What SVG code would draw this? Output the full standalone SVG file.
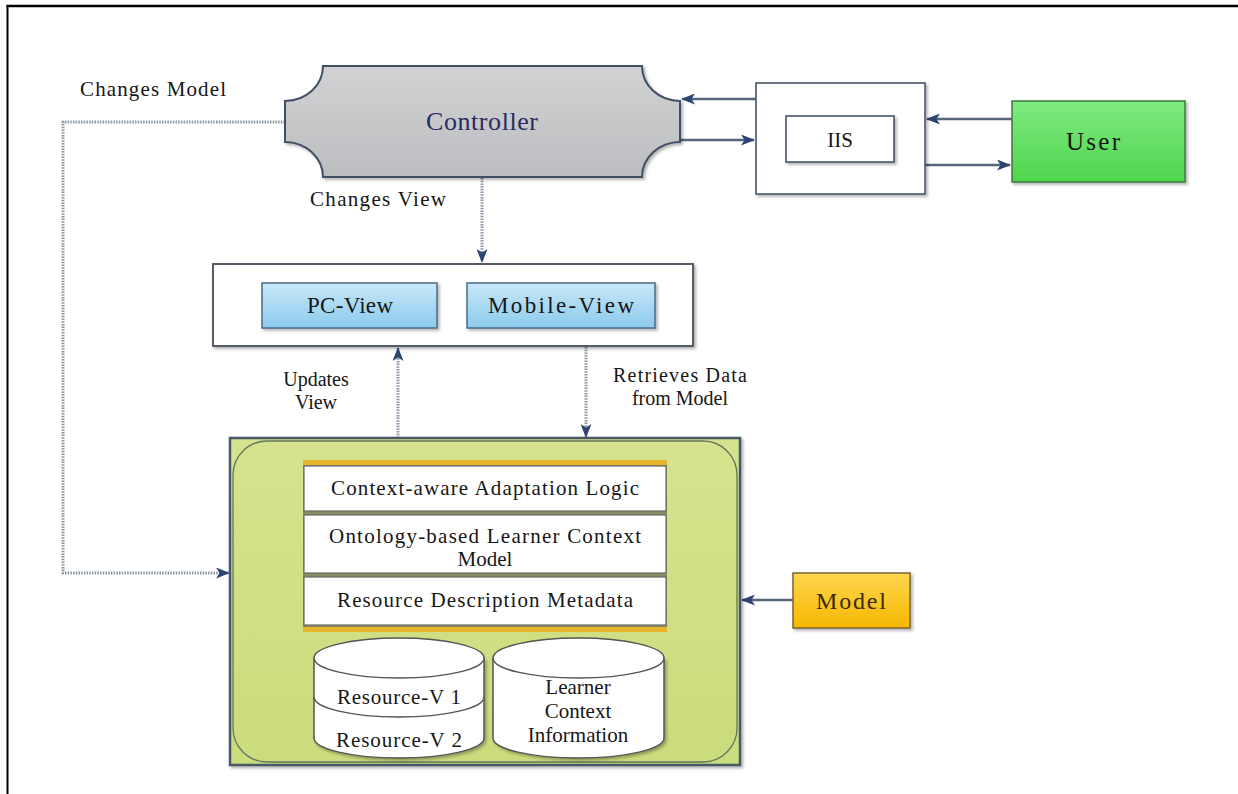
<svg xmlns="http://www.w3.org/2000/svg" width="1238" height="794" viewBox="0 0 1238 794">
<defs>
<linearGradient id="gCtrl" x1="0" y1="0" x2="0" y2="1"><stop offset="0" stop-color="#d2d2d4"/><stop offset="1" stop-color="#bcbdc0"/></linearGradient>
<linearGradient id="gUser" x1="0" y1="0" x2="0" y2="1"><stop offset="0" stop-color="#80ea80"/><stop offset="1" stop-color="#4ed54e"/></linearGradient>
<linearGradient id="gView" x1="0" y1="0" x2="0" y2="1"><stop offset="0" stop-color="#c8e8f8"/><stop offset="1" stop-color="#8ccaed"/></linearGradient>
<linearGradient id="gGreen" x1="0" y1="0" x2="0" y2="1"><stop offset="0" stop-color="#d6e38e"/><stop offset="1" stop-color="#cadc7c"/></linearGradient>
<linearGradient id="gModel" x1="0" y1="0" x2="0" y2="1"><stop offset="0" stop-color="#ffd650"/><stop offset="1" stop-color="#f6b800"/></linearGradient>
<filter id="sh" x="-10%" y="-10%" width="130%" height="130%"><feDropShadow dx="2" dy="2" stdDeviation="1.5" flood-color="#000" flood-opacity="0.3"/></filter>
<marker id="ah" viewBox="0 0 14 11" refX="13" refY="5.5" markerWidth="14" markerHeight="11" markerUnits="userSpaceOnUse" orient="auto"><path d="M0,0 L14,5.5 L0,11 L3.5,5.5 Z" fill="#2c4470"/></marker>
<style>
.t{font-family:"Liberation Serif","Times New Roman",serif;fill:#161616}
.box{fill:#fff;stroke:#4a5668;stroke-width:1.6}
.arr{fill:none;stroke:#55657c;stroke-width:2.5;marker-end:url(#ah)}
.dot{fill:none;stroke:#8c98a6;stroke-width:3;stroke-dasharray:1.5 1.2;marker-end:url(#ah)}
.row{fill:#fff;stroke:#6a6a60;stroke-width:1.2}
.cyl{fill:#fff;stroke:#555;stroke-width:1.5}
</style>
</defs>
<rect width="1238" height="794" fill="#fff"/>
<g id="frame">
<line x1="6.5" y1="6" x2="1238" y2="6" stroke="#000" stroke-width="2.5"/>
<line x1="7.5" y1="5" x2="7.5" y2="794" stroke="#000" stroke-width="2"/>
</g>
<g id="connectors">
<path class="dot" d="M285,122 H63 V573 H229"/>
<path class="dot" d="M482,178 V262"/>
<path class="dot" d="M398,438 V348"/>
<path class="dot" d="M586,347 V437"/>
<path class="arr" d="M756,99 H682"/>
<path class="arr" d="M680,140 H754"/>
<path class="arr" d="M1012,119 H927"/>
<path class="arr" d="M925,165 H1010"/>
<path class="arr" d="M793,600 H742"/>
</g>
<g id="labels">
<text class="t" x="80" y="96" font-size="21" textLength="146" lengthAdjust="spacing">Changes Model</text>
<text class="t" x="310" y="206" font-size="21" textLength="136" lengthAdjust="spacing">Changes View</text>
<text class="t" x="316" y="386" font-size="20" text-anchor="middle">Updates</text>
<text class="t" x="316" y="409" font-size="20" text-anchor="middle">View</text>
<text class="t" x="680" y="382" font-size="20" text-anchor="middle" textLength="134" lengthAdjust="spacing">Retrieves Data</text>
<text class="t" x="680" y="405" font-size="20" text-anchor="middle">from Model</text>
</g>
<g id="controller">
<path d="M323,66 H642 A38 35 0 0 0 680,101 V142 A38 35 0 0 0 642,177 H323 A38 35 0 0 0 285,142 V101 A38 35 0 0 0 323,66 Z" fill="url(#gCtrl)" stroke="#3f4f63" stroke-width="2" filter="url(#sh)"/>
<text class="t" x="482" y="130" font-size="26" text-anchor="middle" style="fill:#2a2a62" textLength="112" lengthAdjust="spacing">Controller</text>
</g>
<g id="iis">
<rect class="box" x="756" y="83" width="169" height="111" filter="url(#sh)"/>
<rect class="box" x="786" y="116" width="108" height="46" filter="url(#sh)"/>
<text class="t" x="840" y="147" font-size="21" text-anchor="middle">IIS</text>
</g>
<g id="user">
<rect x="1012" y="101" width="173" height="81" fill="url(#gUser)" stroke="#3d7a3d" stroke-width="1.5" filter="url(#sh)"/>
<text class="t" x="1093" y="150" font-size="25" text-anchor="middle" textLength="54" lengthAdjust="spacing">User</text>
</g>
<g id="views">
<rect x="213" y="264" width="480" height="82" fill="#fff" stroke="#525c68" stroke-width="2" filter="url(#sh)"/>
<g id="pc-view">
<rect x="262" y="283" width="175" height="45" fill="url(#gView)" stroke="#4b6a88" stroke-width="1.5" filter="url(#sh)"/>
<text class="t" x="350" y="313" font-size="23" text-anchor="middle" textLength="86" lengthAdjust="spacing">PC-View</text>
</g>
<g id="mobile-view">
<rect x="467" y="283" width="188" height="45" fill="url(#gView)" stroke="#4b6a88" stroke-width="1.5" filter="url(#sh)"/>
<text class="t" x="561" y="313" font-size="23" text-anchor="middle" textLength="146" lengthAdjust="spacing">Mobile-View</text>
</g>
</g>
<g id="model-container">
<rect x="230" y="438" width="510" height="327" fill="url(#gGreen)" stroke="#4a5868" stroke-width="2.5" filter="url(#sh)"/>
<rect x="233" y="441" width="504" height="321" rx="34" fill="none" stroke="#66765e" stroke-width="1.3"/>
<g id="stack">
<rect x="303" y="460" width="364" height="172" fill="#8a8a6a"/>
<rect x="303" y="460" width="364" height="5" fill="#e6b52a"/>
<rect x="303" y="627" width="364" height="5" fill="#e6b52a"/>
<g id="row-adaptation">
<rect class="row" x="304" y="466" width="362" height="45"/>
<text class="t" x="485" y="495" font-size="21" text-anchor="middle" textLength="308" lengthAdjust="spacing">Context-aware Adaptation Logic</text>
</g>
<g id="row-ontology">
<rect class="row" x="304" y="515" width="362" height="58"/>
<text class="t" x="485" y="543" font-size="21" text-anchor="middle" textLength="312" lengthAdjust="spacing">Ontology-based Learner Context</text>
<text class="t" x="485" y="566" font-size="21" text-anchor="middle">Model</text>
</g>
<g id="row-metadata">
<rect class="row" x="304" y="577" width="362" height="48"/>
<text class="t" x="485" y="607" font-size="21" text-anchor="middle" textLength="296" lengthAdjust="spacing">Resource Description Metadata</text>
</g>
</g>
<g id="cyl-resource">
<path class="cyl" d="M314,658 V738 A85 20 0 0 0 484,738 V658" filter="url(#sh)"/>
<ellipse class="cyl" cx="399" cy="658" rx="85" ry="20"/>
<path d="M314,697 A85 20 0 0 0 484,697" fill="none" stroke="#555" stroke-width="1.5"/>
<text class="t" x="399" y="704" font-size="21" text-anchor="middle" textLength="124" lengthAdjust="spacing">Resource-V 1</text>
<text class="t" x="399" y="747" font-size="21" text-anchor="middle" textLength="126" lengthAdjust="spacing">Resource-V 2</text>
</g>
<g id="cyl-learner">
<path class="cyl" d="M493,658 V738 A85.5 20 0 0 0 664,738 V658" filter="url(#sh)"/>
<ellipse class="cyl" cx="578.5" cy="658" rx="85.5" ry="20"/>
<text class="t" x="578" y="694" font-size="21" text-anchor="middle">Learner</text>
<text class="t" x="578" y="718" font-size="21" text-anchor="middle">Context</text>
<text class="t" x="578" y="742" font-size="21" text-anchor="middle">Information</text>
</g>
</g>
<g id="model">
<rect x="793" y="573" width="117" height="55" fill="url(#gModel)" stroke="#7a6530" stroke-width="1.5" filter="url(#sh)"/>
<text class="t" x="851" y="609" font-size="24" text-anchor="middle" style="fill:#3a2a0a" textLength="70" lengthAdjust="spacing">Model</text>
</g>
</svg>
